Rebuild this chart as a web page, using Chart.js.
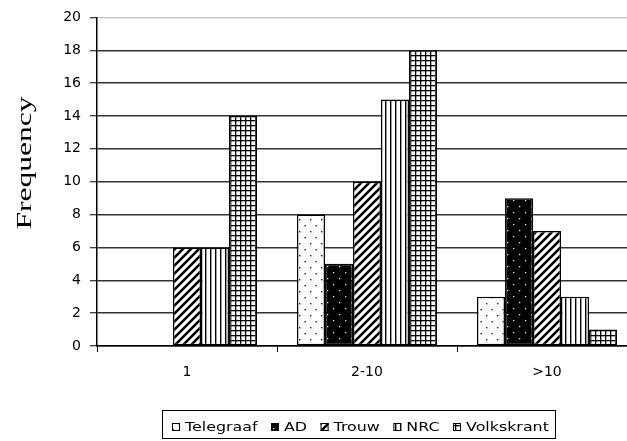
<!DOCTYPE html>
<html>
<head>
<meta charset="utf-8">
<script src="https://cdn.jsdelivr.net/npm/chart.js@4/dist/chart.umd.min.js"></script>
<style>
  html, body { margin: 0; padding: 0; background: #fff; overflow: hidden; }
  #wrap { width: 637px; height: 441px; }
</style>
</head>
<body>
<div id="wrap"><canvas id="c" width="637" height="441"></canvas></div>
<script>
// Number of articles per newspaper, grouped by frequency class
const categories = ['1', '2-10', '>10'];
const seriesNames = ['Telegraaf', 'AD', 'Trouw', 'NRC', 'Volkskrant'];
const telegraaf  = [0, 8, 3];
const ad         = [0, 5, 9];
const trouw      = [6, 10, 7];
const nrc        = [6, 15, 3];
const volkskrant = [14, 18, 1];
const yMax = 20;
const yStep = 2;
const yTitle = 'Frequency';

// Monochrome fill patterns, one per newspaper
function makeTile(w, h, draw) {
  const t = document.createElement('canvas');
  t.width = w; t.height = h;
  const g = t.getContext('2d');
  draw(g, w, h);
  return document.getElementById('c').getContext('2d').createPattern(t, 'repeat');
}
const patDots = makeTile(11, 12, (g) => {
  g.fillStyle = '#fff'; g.fillRect(0, 0, 11, 12);
  g.fillStyle = '#222';
  g.fillRect(2, 3, 1.4, 1.4); g.fillRect(7.5, 9, 1.4, 1.4);
});
const patDarkDots = makeTile(12, 12, (g) => {
  g.fillStyle = '#000'; g.fillRect(0, 0, 12, 12);
  g.fillStyle = '#ddd';
  g.fillRect(3, 2, 1.3, 1.3); g.fillRect(9, 8, 1.3, 1.3);
});
const patDiag = makeTile(8, 8, (g) => {
  g.fillStyle = '#fff'; g.fillRect(0, 0, 8, 8);
  g.strokeStyle = '#000'; g.lineWidth = 2.6;
  [[-8, 8, 8, -8], [0, 8, 8, 0], [0, 16, 16, 0]].forEach(([a, b, c, d]) => {
    g.beginPath(); g.moveTo(a, b); g.lineTo(c, d); g.stroke();
  });
});
const patVert = makeTile(5, 4, (g) => {
  g.fillStyle = '#fff'; g.fillRect(0, 0, 5, 4);
  g.fillStyle = '#000'; g.fillRect(0, 0, 1.4, 4);
});
const patGrid = makeTile(5, 5, (g) => {
  g.fillStyle = '#fff'; g.fillRect(0, 0, 5, 5);
  g.fillStyle = '#000';
  g.fillRect(0, 0, 5, 1.3); g.fillRect(0, 0, 1.3, 5);
});

const seriesData = [telegraaf, ad, trouw, nrc, volkskrant];
const fills = [patDots, patDarkDots, patDiag, patVert, patGrid];

const datasets = seriesNames.map((name, i) => ({
  label: name,
  data: seriesData[i],
  backgroundColor: fills[i],
  borderColor: '#000',
  borderWidth: (ctx) => (ctx.raw === 0 ? 0 : 1.5),
  borderSkipped: false,
  categoryPercentage: 0.778,
  barPercentage: 1.0
}));

// Rotated axis title and boxed legend underneath the plot
const decorations = {
  id: 'decorations',
  afterDraw(chart) {
    const ctx = chart.ctx;
    ctx.save();
    // y-axis title
    ctx.translate(25, 163);
    ctx.rotate(-Math.PI / 2);
    ctx.font = '22px "Liberation Serif", "Times New Roman", serif';
    const w = ctx.measureText(yTitle).width;
    ctx.scale(133 / w, 1);
    ctx.fillStyle = '#000';
    ctx.textAlign = 'center';
    ctx.textBaseline = 'middle';
    ctx.fillText(yTitle, 0, 0);
    ctx.restore();

    // legend
    ctx.save();
    ctx.strokeStyle = '#000';
    ctx.lineWidth = 1;
    ctx.strokeRect(162.5, 410.5, 393, 28);
    ctx.font = '13px "DejaVu Sans", sans-serif';
    ctx.textBaseline = 'alphabetic';
    const sx = 1.22;
    let x = 172;
    chart.data.datasets.forEach((ds) => {
      ctx.fillStyle = ds.backgroundColor;
      ctx.fillRect(x, 423, 8, 8);
      ctx.strokeStyle = '#000';
      ctx.strokeRect(x + 0.5, 423.5, 7, 7);
      x += 8 + 5;
      ctx.save();
      ctx.translate(x, 431);
      ctx.scale(sx, 1);
      ctx.fillStyle = '#000';
      ctx.fillText(ds.label, 0, 0);
      const tw = ctx.measureText(ds.label).width * sx;
      ctx.restore();
      x += tw + 13.5;
    });
    ctx.restore();
  }
};

const tickFont = { family: '"DejaVu Sans", sans-serif', size: 14 };

new Chart(document.getElementById('c'), {
  type: 'bar',
  data: { labels: categories, datasets },
  options: {
    responsive: false,
    animation: false,
    devicePixelRatio: 1,
    layout: { padding: { top: 13, right: 0, left: 0, bottom: 0 } },
    plugins: { legend: { display: false }, tooltip: { enabled: false } },
    scales: {
      x: {
        grid: {
          offset: true,
          drawOnChartArea: false,
          drawTicks: true,
          tickLength: 6,
          color: '#000',
          lineWidth: 1
        },
        border: { color: '#000', width: 1.5 },
        ticks: { font: tickFont, color: '#000', padding: 12, maxRotation: 0 },
        afterFit(scale) { scale.height = 95; }
      },
      y: {
        min: 0,
        max: yMax,
        grid: {
          color: (ctx) => (ctx.tick && ctx.tick.value === yMax ? '#c8c8c8' : '#333'),
          lineWidth: 1.5,
          tickLength: 7,
          tickColor: '#000',
          tickWidth: 1
        },
        border: { color: '#000', width: 1.5 },
        ticks: { stepSize: yStep, font: tickFont, color: '#000', padding: 9 },
        afterFit(scale) { scale.width = 97; }
      }
    }
  },
  plugins: [decorations]
});
</script>
</body>
</html>
